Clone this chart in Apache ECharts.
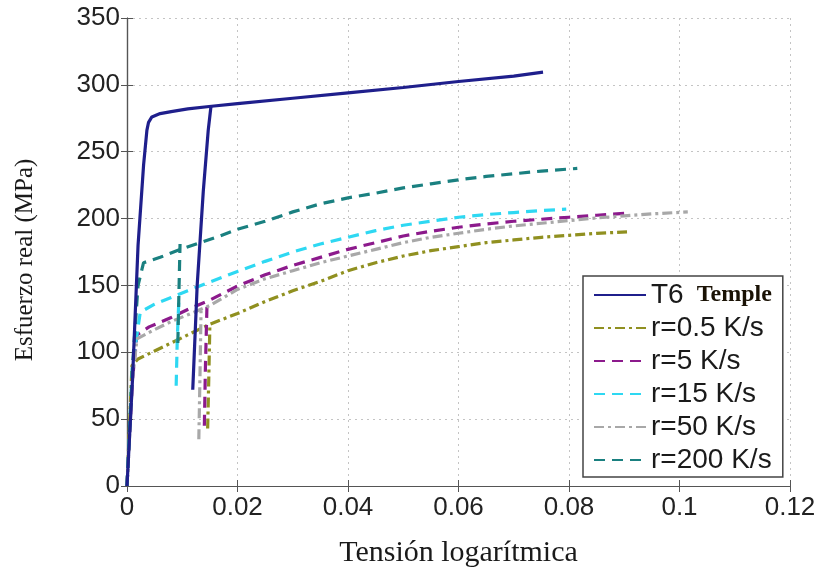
<!DOCTYPE html>
<html>
<head>
<meta charset="utf-8">
<script src="https://cdn.jsdelivr.net/npm/echarts@6/dist/echarts.min.js"></script>
<style>html,body{margin:0;padding:0;background:#fff;}#c{width:824px;height:573px;}</style>
</head>
<body>
<div id="c"></div>
<script>
// ---- data (strain, stress MPa) ----
const seriesNames = ['T6', 'r=0.5 K/s', 'r=5 K/s', 'r=15 K/s', 'r=50 K/s', 'r=200 K/s'];
const xTicks = [0, 0.02, 0.04, 0.06, 0.08, 0.1, 0.12];
const yTicks = [0, 50, 100, 150, 200, 250, 300, 350];

const t6Main = [[0,0],[0.001,80],[0.002,180],[0.003,240],[0.0036,266],[0.0039,272],[0.0045,276],[0.006,278.5],[0.008,280],[0.011,282],[0.0153,284],[0.02,286],[0.03,290],[0.04,294],[0.05,298],[0.06,302.5],[0.07,306.5],[0.0753,309.5]];
const t6Branch = [[0.0119,72],[0.0127,150],[0.0138,220],[0.0147,266],[0.0152,284]];

const r05Main = [[0,0],[0.0005,50],[0.0009,90],[0.002,95],[0.005,101],[0.008,107],[0.011,113],[0.015,121],[0.02,129],[0.025,138],[0.03,146],[0.035,153],[0.04,161],[0.045,167],[0.05,172],[0.055,176],[0.06,179],[0.065,182],[0.07,184],[0.075,186],[0.08,187.5],[0.085,189],[0.0905,190]];
const r05Branch = [[0.0146,43],[0.0148,80],[0.0150,121]];

const r5Main = [[0,0],[0.001,80],[0.0018,113],[0.004,119],[0.008,126],[0.011,132],[0.015,139],[0.02,149.5],[0.025,158],[0.03,165],[0.035,171],[0.04,177],[0.045,182],[0.05,187],[0.055,190.5],[0.06,193.5],[0.065,196],[0.07,198],[0.075,199.5],[0.08,201],[0.085,202.5],[0.0905,204]];
const r5Branch = [[0.0140,45],[0.0142,90],[0.0145,139]];

const r15Main = [[0,0],[0.001,90],[0.0024,130],[0.005,136],[0.008,141],[0.011,146],[0.015,152.5],[0.02,160.5],[0.025,168],[0.03,175],[0.035,181],[0.04,186],[0.045,191],[0.05,195],[0.055,198],[0.06,201],[0.065,203],[0.07,204.5],[0.075,206],[0.0795,207]];
const r15Branch = [[0.0089,75],[0.0091,110],[0.0094,141]];

const r50Main = [[0,0],[0.001,80],[0.0018,110],[0.005,117],[0.008,123],[0.011,128],[0.015,135],[0.02,147],[0.025,155],[0.03,161],[0.035,167],[0.04,172],[0.045,177],[0.05,182],[0.055,186],[0.06,189],[0.065,192],[0.07,194.5],[0.075,196.5],[0.08,198.5],[0.085,200.5],[0.09,202],[0.095,203.5],[0.1015,205]];
const r50Branch = [[0.0130,35],[0.0132,80],[0.0134,131]];

const r200Main = [[0,0],[0.001,90],[0.002,150],[0.003,167],[0.006,171],[0.009,176],[0.0132,182],[0.0168,187],[0.02,192],[0.025,198],[0.03,205],[0.035,211],[0.04,215.5],[0.045,219],[0.05,223],[0.055,226],[0.06,229],[0.065,231.5],[0.07,233.5],[0.075,235.5],[0.0815,237.5]];
const r200Branch = [[0.0092,107],[0.0094,145],[0.0096,181]];

// ---- styles ----
const colors = ['#1f1f8c', '#909020', '#8c1a8c', '#2ed8f2', '#a8a8a8', '#1a8080'];
const dashes = ['solid', [10, 4, 3, 4], [11, 7], [11, 7], [10, 4, 3, 4], [11, 7]];
const mains = [t6Main, r05Main, r5Main, r15Main, r50Main, r200Main];
const branches = [t6Branch, r05Branch, r5Branch, r15Branch, r50Branch, r200Branch];

const series = [];
seriesNames.forEach(function (nm, i) {
  [mains[i], branches[i]].forEach(function (d) {
    series.push({
      name: nm, type: 'line', data: d, symbol: 'none', smooth: false,
      z: i === 0 ? 5 : 3,
      lineStyle: { color: colors[i], width: 3.2, type: dashes[i], cap: 'butt' },
      itemStyle: { color: colors[i] }
    });
  });
});

const tickFont = { fontFamily: 'Liberation Sans, Arial, sans-serif', fontSize: 26, color: '#222' };
const axisLineStyle = { lineStyle: { color: '#555', width: 1.2 } };
const tickStyle = { inside: true, length: 6, lineStyle: { color: '#555' } };
const gridLine = { show: true, lineStyle: { color: '#c4c4c4', type: [2, 4], width: 1 } };

const chart = echarts.init(document.getElementById('c'), null, { renderer: 'canvas' });
chart.setOption({
  backgroundColor: '#fff',
  animation: false,
  grid: { left: 127, right: 34, top: 18, bottom: 86, containLabel: false },
  xAxis: [{
    type: 'value', min: xTicks[0], max: xTicks[xTicks.length - 1], interval: 0.02,
    position: 'bottom',
    name: 'Tensión logarítmica', nameLocation: 'middle', nameGap: 52,
    nameTextStyle: { fontFamily: 'Liberation Serif, Times New Roman, serif', fontSize: 30, color: '#1a1a1a' },
    axisLine: axisLineStyle, axisTick: tickStyle,
    axisLabel: Object.assign({ margin: 9, formatter: function (v) { return String(+v.toFixed(2)); } }, tickFont),
    splitLine: gridLine
  }, {
    type: 'value', min: xTicks[0], max: xTicks[xTicks.length - 1], interval: 0.02,
    position: 'top', axisLine: axisLineStyle, axisTick: tickStyle,
    axisLabel: { show: false }, splitLine: { show: false }
  }],
  yAxis: [{
    type: 'value', min: yTicks[0], max: yTicks[yTicks.length - 1], interval: 50,
    position: 'left',
    name: 'Esfuerzo real (MPa)', nameLocation: 'middle', nameGap: 89,
    nameTextStyle: { fontFamily: 'Liberation Serif, Times New Roman, serif', fontSize: 25, color: '#1a1a1a', padding: [0, 16, 0, 0] },
    axisLine: axisLineStyle, axisTick: tickStyle,
    axisLabel: Object.assign({ margin: 7 }, tickFont),
    splitLine: gridLine
  }, {
    type: 'value', min: yTicks[0], max: yTicks[yTicks.length - 1], interval: 50,
    position: 'right', axisLine: axisLineStyle, axisTick: tickStyle,
    axisLabel: { show: false }, splitLine: { show: false }
  }],
  legend: {
    orient: 'vertical', left: 583, top: 276,
    data: seriesNames,
    backgroundColor: '#fff', borderColor: '#444', borderWidth: 1.5, borderRadius: 0,
    padding: [5, 11, 3, 10],
    itemWidth: 52, itemHeight: 12, itemGap: 5,
    itemStyle: { opacity: 0 },
    textStyle: {
      fontFamily: 'Liberation Sans, Arial, sans-serif', fontSize: 28, color: '#1a1a1a', lineHeight: 28,
      rich: {
        a: { fontFamily: 'Liberation Sans, Arial, sans-serif', fontSize: 28, color: '#1a1a1a', lineHeight: 28 },
        b: { fontFamily: 'Liberation Serif, Times New Roman, serif', fontSize: 24, fontWeight: 'bold', color: '#1a1205', padding: [0, 0, 0, 13], lineHeight: 28 }
      }
    },
    formatter: function (n) { return n === 'T6' ? '{a|T6}{b|Temple}' : n; }
  },
  series: series
});
</script>
</body>
</html>
